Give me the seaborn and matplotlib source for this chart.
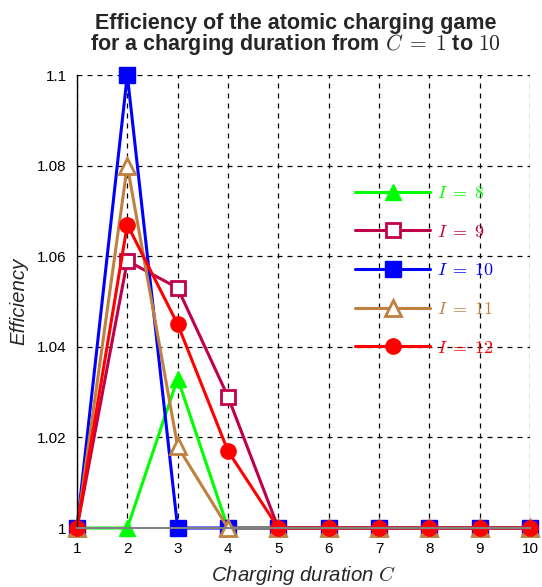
import matplotlib
matplotlib.use("Agg")
import matplotlib.pyplot as plt
import seaborn as sns
import pandas as pd

sns.set_style("white")
plt.rcParams['font.family'] = ['Liberation Sans', 'DejaVu Sans']
plt.rcParams['mathtext.fontset'] = 'cm'

durations = [1, 2, 3, 4, 5, 6, 7, 8, 9, 10]
eff_I8 = [1, 1, 1.033, 1, 1, 1, 1, 1, 1, 1]
eff_I9 = [1, 1.059, 1.053, 1.029, 1, 1, 1, 1, 1, 1]
eff_I10 = [1, 1.1, 1, 1, 1, 1, 1, 1, 1, 1]
eff_I11 = [1, 1.08, 1.018, 1, 1, 1, 1, 1, 1, 1]
eff_I12 = [1, 1.067, 1.045, 1.017, 1, 1, 1, 1, 1, 1]
labels = [r"$I\;=\;8$", r"$I\;=\;9$", r"$I\;=\;10$", r"$I\;=\;11$", r"$I\;=\;12$"]
xticks = [1, 2, 3, 4, 5, 6, 7, 8, 9, 10]
yticks = [1, 1.02, 1.04, 1.06, 1.08, 1.1]

series = [eff_I8, eff_I9, eff_I10, eff_I11, eff_I12]
colors = ["#00ff00", "#c0004a", "#0000ff", "#c08040", "#ff0000"]
markers = ["^", "s", "s", "^", "o"]
faces = [None, "white", None, "white", None]

fig = plt.figure(figsize=(5.42, 5.87), dpi=100)
ax = fig.add_axes([0.142, 0.1005, 0.836, 0.7715])

for vals, lab, c, m, f in zip(series, labels, colors, markers, faces):
    df = pd.DataFrame({"C": durations, "E": vals})
    kw = dict(markersize=11 if m != "s" or f else 11, markeredgewidth=2 if f else 1,
              markeredgecolor=c, markerfacecolor=f if f else c)
    if f and m == "s":
        kw["markersize"] = 10
    sns.lineplot(data=df, x="C", y="E", ax=ax, color=c, marker=m, linewidth=2.2,
                 label=lab, clip_on=False, **kw)

ax.set_xlim(1, 10)
ax.set_ylim(1, 1.1)
ax.set_xticks(xticks)
ax.set_yticks(yticks)
ax.set_yticklabels([f"{v:g}" for v in yticks])
ax.tick_params(axis='both', labelsize=11, direction='out', length=4, width=1, colors='black')
ax.tick_params(axis='x', length=0, pad=10)
ax.grid(True, color='black', linestyle=(0, (4, 4)), linewidth=0.9)
for s in ['top', 'right']:
    ax.spines[s].set_visible(False)
ax.spines['left'].set_color('black')
ax.spines['left'].set_linewidth(1)
ax.spines['bottom'].set_color('gray')
ax.spines['bottom'].set_linewidth(1.5)

ax.set_xlabel("Charging duration $C$", fontsize=14.7, style='italic', labelpad=6)
ax.set_ylabel("Efficiency", fontsize=14.7, style='italic', labelpad=6)
ax.set_title("Efficiency of the atomic charging game\nfor a charging duration from $C\\;=\\;1$ to $10$",
             fontsize=15.5, fontweight='bold', linespacing=0.92, pad=18, x=0.482)

leg = ax.legend(loc='upper left', bbox_to_anchor=(0.578, 0.793), frameon=False,
                handlelength=4.15, labelspacing=1.2, fontsize=13, labelcolor='linecolor',
                handletextpad=0.4)

fig.savefig("out.png", dpi=100)
